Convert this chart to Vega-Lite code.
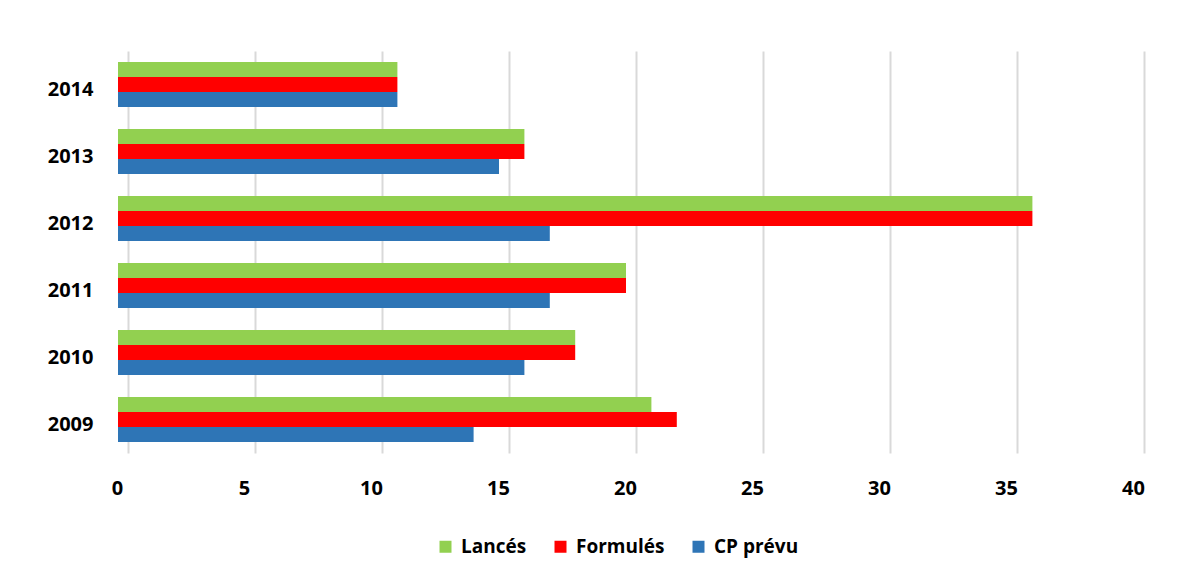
{
  "$schema": "https://vega.github.io/schema/vega-lite/v6.json",
  "autosize": "none",
  "width": 1016,
  "height": 402,
  "padding": {"left": 118, "top": 51, "right": 69, "bottom": 125},
  "background": "white",
  "data": {
    "values": [
      {"year": "2014", "series": "Lancés", "value": 11},
      {"year": "2014", "series": "Formulés", "value": 11},
      {"year": "2014", "series": "CP prévu", "value": 11},
      {"year": "2013", "series": "Lancés", "value": 16},
      {"year": "2013", "series": "Formulés", "value": 16},
      {"year": "2013", "series": "CP prévu", "value": 15},
      {"year": "2012", "series": "Lancés", "value": 36},
      {"year": "2012", "series": "Formulés", "value": 36},
      {"year": "2012", "series": "CP prévu", "value": 17},
      {"year": "2011", "series": "Lancés", "value": 20},
      {"year": "2011", "series": "Formulés", "value": 20},
      {"year": "2011", "series": "CP prévu", "value": 17},
      {"year": "2010", "series": "Lancés", "value": 18},
      {"year": "2010", "series": "Formulés", "value": 18},
      {"year": "2010", "series": "CP prévu", "value": 16},
      {"year": "2009", "series": "Lancés", "value": 21},
      {"year": "2009", "series": "Formulés", "value": 22},
      {"year": "2009", "series": "CP prévu", "value": 14}
    ]
  },
  "mark": {"type": "bar", "strokeWidth": 0},
  "encoding": {
    "y": {
      "field": "year",
      "type": "nominal",
      "sort": "descending",
      "scale": {"paddingInner": 0.33, "paddingOuter": 0.165},
      "axis": {
        "title": null,
        "domain": false,
        "ticks": false,
        "labelPadding": 25,
        "labelOffset": 5,
        "labelFont": "Open Sans",
        "labelFontWeight": "bold",
        "labelFontSize": 20,
        "labelColor": "#000000"
      }
    },
    "yOffset": {
      "field": "series",
      "type": "nominal",
      "sort": ["Lancés", "Formulés", "CP prévu"]
    },
    "x": {
      "field": "value",
      "type": "quantitative",
      "scale": {"domain": [0, 40], "nice": false},
      "axis": {
        "title": null,
        "values": [0, 5, 10, 15, 20, 25, 30, 35, 40],
        "domain": false,
        "ticks": false,
        "tickOffset": 10,
        "labelOffset": -11,
        "labelFlush": false,
        "labelPadding": 25,
        "labelFont": "Open Sans",
        "labelFontWeight": "bold",
        "labelFontSize": 20,
        "labelColor": "#000000",
        "gridColor": "#d9d9d9",
        "gridWidth": 2
      }
    },
    "color": {
      "field": "series",
      "type": "nominal",
      "sort": ["Lancés", "Formulés", "CP prévu"],
      "scale": {
        "domain": ["Lancés", "Formulés", "CP prévu"],
        "range": ["#92D050", "#FF0000", "#2E75B6"]
      },
      "legend": {
        "title": null,
        "orient": "none",
        "direction": "horizontal",
        "legendX": 318,
        "legendY": 486,
        "symbolType": "square",
        "symbolSize": 144,
        "symbolStrokeWidth": 0,
        "labelFont": "Open Sans",
        "labelFontWeight": "bold",
        "labelFontSize": 19,
        "labelColor": "#000000",
        "columnPadding": 24,
        "labelOffset": 6
      }
    }
  },
  "config": {"view": {"stroke": null}}
}
